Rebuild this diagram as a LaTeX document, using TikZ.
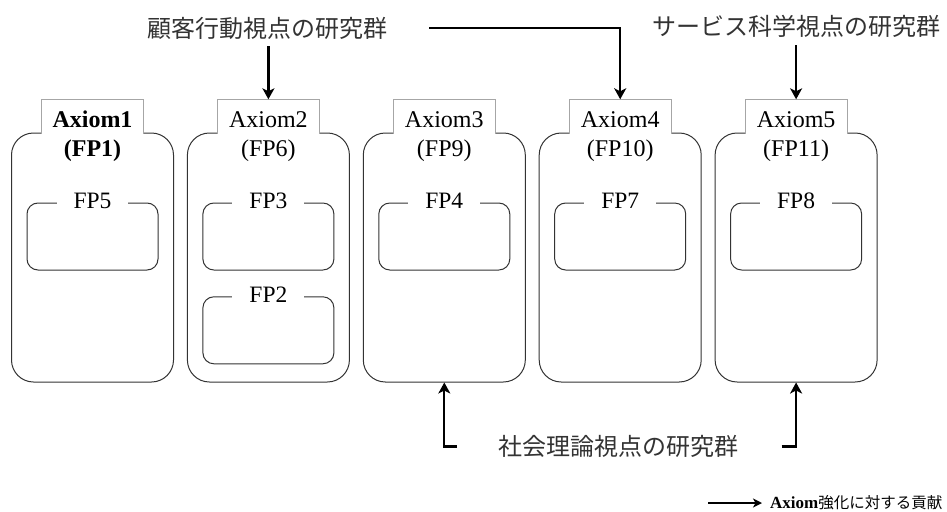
\documentclass[tikz,border=0pt]{standalone}
\usepackage{fontspec}
\setmainfont{Liberation Serif}
\newfontfamily\cjk{Noto Sans CJK JP}
\usetikzlibrary{arrows.meta,calc}
\begin{document}
\begin{tikzpicture}[x=1pt,y=-1pt,
  outerbox/.style={draw=black!80,line width=1pt,rounded corners=22pt,minimum width=162pt,minimum height=249pt,inner sep=0pt},
  tabbox/.style={fill=white,minimum width=101.5pt,minimum height=34pt,inner sep=0pt},
  tabline/.style={draw=black!35,line width=0.6pt},
  axtext/.style={anchor=base,inner sep=0pt,font=\fontsize{24}{28}\selectfont},
  axbold/.style={anchor=base,inner sep=0pt,font=\fontsize{24}{28}\selectfont\bfseries},
  innerbox/.style={draw=black!80,line width=1pt,rounded corners=11pt,minimum width=131pt,minimum height=67pt,inner sep=0pt},
  fplabel/.style={fill=white,inner xsep=17pt,inner ysep=1pt,font=\fontsize{23.5}{28}\selectfont},
  group/.style={inner sep=0pt,text=black!80,font=\cjk\fontsize{24}{28}\selectfont},
  arr/.style={draw=black,line width=2.3pt,-{Stealth[length=11pt,width=12pt,inset=3pt]}},
  legarr/.style={draw=black,line width=2pt,-{Stealth[length=9pt,width=9pt,inset=2.5pt]}},
]
\useasboundingbox (0,0) rectangle (947,511);

% ---- Box 1
\node[outerbox] (B1) at (92.5,257.5) {};
\node[tabbox] (T1) at (92.5,116.5) {};
\draw[tabline] (T1.south west) -- (T1.north west) -- (T1.north east) -- (T1.south east);
\node[axbold] (A1) at (92.5,127) {Axiom1};
\node[axbold] (P1) at (92.5,156) {(FP1)};
\node[innerbox] (I1) at (92.5,236.5) {};
\node[fplabel] (L1) at ([yshift=2pt]I1.north) {FP5};

% ---- Box 2
\node[outerbox] (B2) at (268.4,257.5) {};
\node[tabbox] (T2) at (268.4,116.5) {};
\draw[tabline] (T2.south west) -- (T2.north west) -- (T2.north east) -- (T2.south east);
\node[axtext] (A2) at (268.4,127) {Axiom2};
\node[axtext] (P2) at (268.4,156) {(FP6)};
\node[innerbox] (I2) at (268.4,236.5) {};
\node[fplabel] (L2) at ([yshift=2pt]I2.north) {FP3};
\node[innerbox] (I2b) at (268.4,330.3) {};
\node[fplabel] (L2b) at ([yshift=2pt]I2b.north) {FP2};

% ---- Box 3
\node[outerbox] (B3) at (444.3,257.5) {};
\node[tabbox] (T3) at (444.3,116.5) {};
\draw[tabline] (T3.south west) -- (T3.north west) -- (T3.north east) -- (T3.south east);
\node[axtext] (A3) at (444.3,127) {Axiom3};
\node[axtext] (P3) at (444.3,156) {(FP9)};
\node[innerbox] (I3) at (444.3,236.5) {};
\node[fplabel] (L3) at ([yshift=2pt]I3.north) {FP4};

% ---- Box 4
\node[outerbox] (B4) at (620.2,257.5) {};
\node[tabbox] (T4) at (620.2,116.5) {};
\draw[tabline] (T4.south west) -- (T4.north west) -- (T4.north east) -- (T4.south east);
\node[axtext] (A4) at (620.2,127) {Axiom4};
\node[axtext] (P4) at (620.2,156) {(FP10)};
\node[innerbox] (I4) at (620.2,236.5) {};
\node[fplabel] (L4) at ([yshift=2pt]I4.north) {FP7};

% ---- Box 5
\node[outerbox] (B5) at (796.1,257.5) {};
\node[tabbox] (T5) at (796.1,116.5) {};
\draw[tabline] (T5.south west) -- (T5.north west) -- (T5.north east) -- (T5.south east);
\node[axtext] (A5) at (796.1,127) {Axiom5};
\node[axtext] (P5) at (796.1,156) {(FP11)};
\node[innerbox] (I5) at (796.1,236.5) {};
\node[fplabel] (L5) at ([yshift=2pt]I5.north) {FP8};

% ---- Research groups
\node[group] (G1) at (267,28) {顧客行動視点の研究群};
\node[group] (G2) at (796.7,26) {サービス科学視点の研究群};
\node[group] (G3) at (618.3,446.5) {社会理論視点の研究群};

\coordinate (g1s) at ([yshift=-7pt]G1.south);
\coordinate (g1e) at ([xshift=42pt]G1.east);
\coordinate (g2s) at ([yshift=-8pt]G2.south);
\coordinate (g3w) at ([xshift=-41pt]G3.west);
\coordinate (g3e) at ([xshift=43pt]G3.east);

\draw[arr] (g1s -| T2.north) -- (T2.north);
\draw[arr] (g1e) -| (T4.north);
\draw[arr] (g2s -| T5.north) -- (T5.north);
\draw[arr] (g3w) -| (B3.south);
\draw[arr] (g3e) -| (B5.south);

% ---- Legend
\node[anchor=west,inner sep=0pt] (LG) at (770,503)
  {\fontsize{17}{20}\selectfont\bfseries Axiom{\cjk\mdseries\fontsize{15.5}{20}\selectfont 強化に対する貢献}};
\coordinate (lgs) at ([xshift=-62pt]LG.west);
\coordinate (lgt) at ([xshift=-8pt]LG.west);
\draw[legarr] (lgs) -- (lgt);
\end{tikzpicture}
\end{document}
